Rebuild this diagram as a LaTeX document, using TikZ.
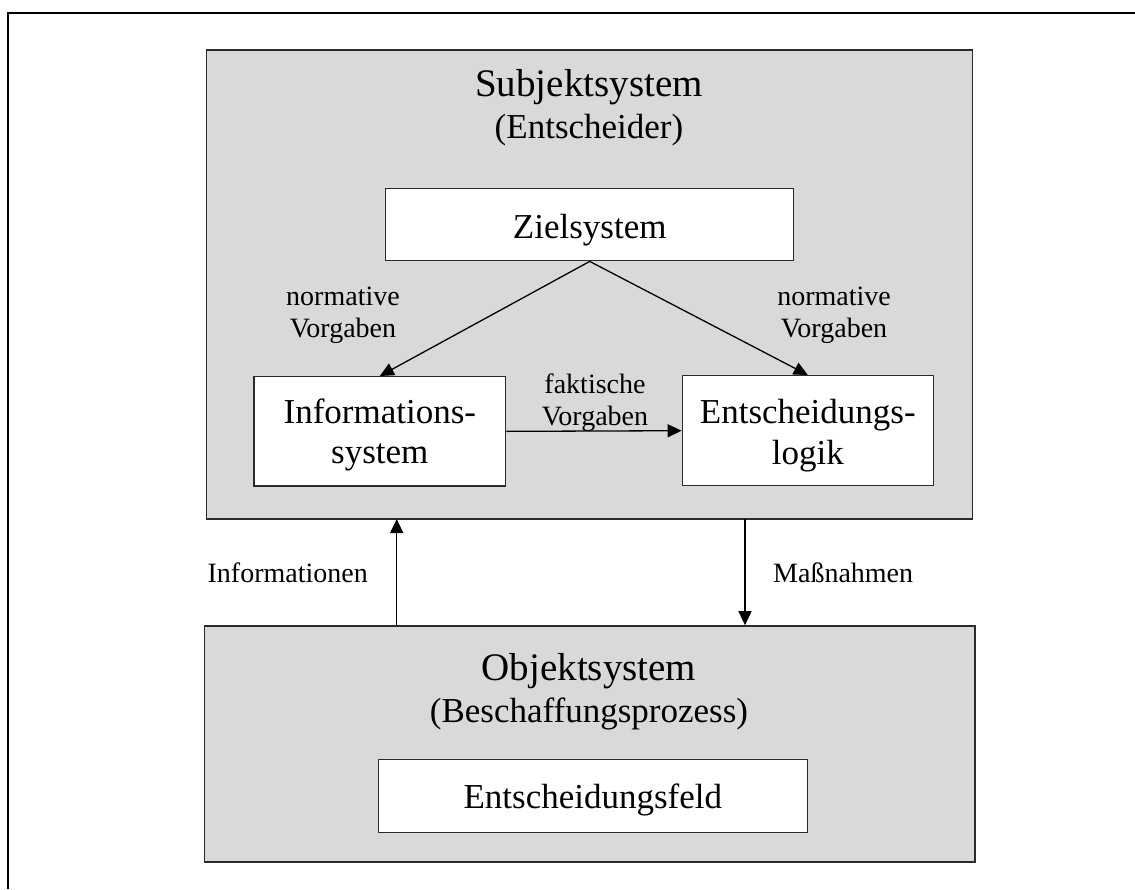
\documentclass[tikz,border=0pt]{standalone}
\usepackage{fontspec}
\setmainfont{Liberation Serif}
\usetikzlibrary{arrows.meta}
\definecolor{panelgray}{HTML}{D9D9D9}
\definecolor{edgegray}{HTML}{2B2B2B}
\begin{document}
\begin{tikzpicture}[x=1pt,y=-1pt,
  panel/.style={draw=edgegray, fill=panelgray, line width=1.6pt, inner sep=0pt},
  innerbox/.style={draw=edgegray, fill=white, line width=1.4pt, inner sep=0pt},
  bigtitle/.style={anchor=base, inner sep=0pt, font=\fontsize{39}{44}\selectfont},
  boxtext/.style={anchor=base, inner sep=0pt, font=\fontsize{35}{40}\selectfont},
  lbl/.style={anchor=base, inner sep=0pt, font=\fontsize{28}{32}\selectfont},
  arr/.style={draw=black, line width=1.3pt, -{Triangle[length=14pt,width=13pt]}}]
\useasboundingbox (0,0) rectangle (1135,889);

% outer frame (top and left edges)
\draw[line width=2.6pt] (8,889) -- (8,13) -- (1135,13);

% panels
\node[panel, minimum width=765.8pt, minimum height=468.7pt] (subj) at (589.4,284.35) {};
\node[panel, minimum width=770.4pt, minimum height=236pt] (obj) at (589.5,744) {};

% panel titles
\node[bigtitle] (subjT) at (589,96) {Subjektsystem};
\node[boxtext] (subjS) at (589,138) {(Entscheider)};
\node[bigtitle] (objT) at (589,680) {Objektsystem};
\node[boxtext] (objS) at (589,722) {(Beschaffungsprozess)};

% inner boxes
\node[innerbox, minimum width=408pt, minimum height=72.4pt] (ziel) at (589.7,224.5) {};
\node[innerbox, minimum width=251.7pt, minimum height=109.3pt] (info) at (379.85,431.35) {};
\node[innerbox, minimum width=251pt, minimum height=110pt] (elog) at (807.8,430.7) {};
\node[innerbox, minimum width=429pt, minimum height=73pt] (feld) at (592.8,795.8) {};

% inner box texts
\node[boxtext] (zielT) at (ziel.center |- 0,238) {Zielsystem};
\node[boxtext] (infoT1) at (info.center |- 0,423) {Informations-};
\node[boxtext] (infoT2) at (info.center |- 0,463) {system};
\node[boxtext] (elogT1) at (elog.center |- 0,423) {Entscheidungs-};
\node[boxtext] (elogT2) at (elog.center |- 0,464) {logik};
\node[boxtext] (feldT) at (feld.center |- 0,808) {Entscheidungsfeld};

% connectors
\draw[arr] (ziel.south) -- (info.north);
\draw[arr] (ziel.south) -- (elog.north);
\draw[arr] (info.east) -- (elog.west);
\coordinate (infoIn) at (396.7,519);
\coordinate (massOut) at (745,519);
\draw[arr] (obj.north -| infoIn) -- (infoIn);
\draw[arr] (massOut) -- (obj.north -| massOut);

% connector labels
\node[lbl] (nl1) at (343,305) {normative};
\node[lbl] (nl2) at (343,337) {Vorgaben};
\node[lbl] (nr1) at (834,305) {normative};
\node[lbl] (nr2) at (834,337) {Vorgaben};
\node[lbl] (fk1) at (595,393) {faktische};
\node[lbl] (fk2) at (595,425) {Vorgaben};
\node[lbl, anchor=base east] (infl) at (368,582) {Informationen};
\node[lbl, anchor=base west] (masl) at (773,582) {Maßnahmen};
\end{tikzpicture}
\end{document}
